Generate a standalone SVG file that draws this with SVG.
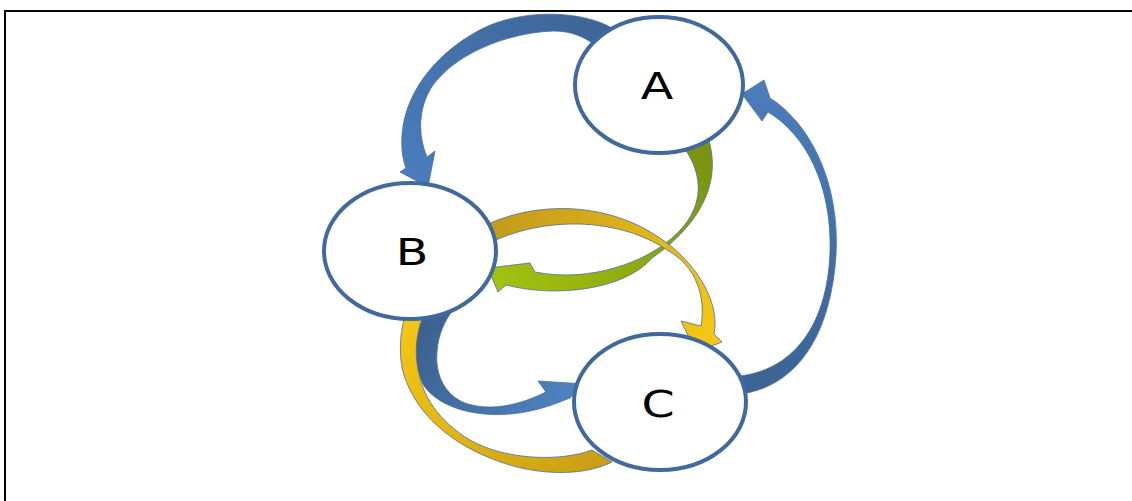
<svg xmlns="http://www.w3.org/2000/svg" width="1132" height="501" viewBox="0 0 1132 501">
<style>
.node{fill:#ffffff;stroke:#41699b;stroke-width:4}
.lbl{font-family:"DejaVu Sans",Verdana,sans-serif;font-size:38px;fill:#000;text-anchor:middle}
.arr{stroke:#4a6e9c;stroke-width:0.8;stroke-linejoin:round}
.frame{stroke:#000;stroke-width:2;fill:none}
</style>
<defs>
<linearGradient id="gBlueTop" gradientUnits="userSpaceOnUse" x1="600" y1="20" x2="420" y2="180">
<stop offset="0" stop-color="#3d6596"/><stop offset="1" stop-color="#4a7cba"/>
</linearGradient>
<linearGradient id="gBlueRight" gradientUnits="userSpaceOnUse" x1="760" y1="390" x2="760" y2="90">
<stop offset="0" stop-color="#3c6393"/><stop offset="1" stop-color="#4b7dba"/>
</linearGradient>
<linearGradient id="gGreen" gradientUnits="userSpaceOnUse" x1="700" y1="140" x2="500" y2="280">
<stop offset="0" stop-color="#7a9311"/><stop offset="1" stop-color="#a3c10f"/>
</linearGradient>
<linearGradient id="gGoldMid" gradientUnits="userSpaceOnUse" x1="480" y1="230" x2="710" y2="340">
<stop offset="0" stop-color="#c19a1c"/><stop offset="1" stop-color="#f6c616"/>
</linearGradient>
<linearGradient id="gBlueLow" gradientUnits="userSpaceOnUse" x1="430" y1="310" x2="580" y2="390">
<stop offset="0" stop-color="#3c6190"/><stop offset="1" stop-color="#4f83c2"/>
</linearGradient>
<linearGradient id="gGoldLow" gradientUnits="userSpaceOnUse" x1="600" y1="460" x2="410" y2="310">
<stop offset="0" stop-color="#c9a015"/><stop offset="1" stop-color="#f5c613"/>
</linearGradient>
</defs>
<rect width="1132" height="501" fill="#ffffff"/>
<g id="frame">
<path class="frame" d="M5,501 V11 H1132"/>
</g>
<g id="connectors">
<path id="c-to-b" class="arr" fill="url(#gGoldLow)" d="M592,450 C560,462 505,460 470,440 C440,422 420,395 418,365 C417,345 418,328 423,316 L428,313 L414,300 L401,314 L405,316 C399,335 399,360 404,375 C415,410 445,440 490,458 C530,475 580,478 612,462 Z"/>
<path id="b-to-c-low" class="arr" fill="url(#gBlueLow)" d="M433,303 L425,313 C414,335 413,365 424,386 C440,408 475,417 510,414 C535,412 555,404 570,398 L585,384 L538,381 L546,392 C520,405 490,412 465,403 C445,395 435,375 437,352 C438,335 445,320 453,310 Z"/>
<path id="a-to-b-mid" class="arr" fill="url(#gGreen)" d="M678,140 C702,168 710,205 672,238 C645,262 590,283 535,272 L530,263 L488,268 L498,292 L506,285 C555,298 625,290 652,258 C700,225 725,180 706,132 Z"/>
<path id="b-to-c-mid" class="arr" fill="url(#gGoldMid)" d="M478,229 C525,203 605,196 667,243 C700,268 720,305 714,334 L722,342 L696,352 L681,321 L701,326 C706,296 696,266 667,250 C630,224 560,212 496,240 Z"/>
<path id="a-to-b-top" class="arr" fill="url(#gBlueTop)" d="M612,28 C585,12 530,8 488,26 C440,48 405,90 402,135 C401,150 403,160 406,168 L400,172 L428,187 L435,151 L427,157 C418,135 418,110 431,88 C453,55 505,33 553,31 C570,31 583,36 595,45 Z"/>
<path id="c-to-a" class="arr" fill="url(#gBlueRight)" d="M740,394 C790,388 830,345 836,255 C840,185 812,125 770,98 L764,80 L742,94 L762,121 L768,112 C806,135 832,185 830,252 C827,330 790,370 740,376 Z"/>
</g>
<g id="node-a">
<ellipse class="node" cx="659" cy="85" rx="84" ry="68"/>
<text class="lbl" transform="translate(657,99) scale(1.25,1)">A</text>
</g>
<g id="node-b">
<ellipse class="node" cx="410" cy="251" rx="86" ry="68"/>
<text class="lbl" transform="translate(412,265) scale(1.25,1)">B</text>
</g>
<g id="node-c">
<ellipse class="node" cx="660" cy="402" rx="86" ry="68"/>
<text class="lbl" transform="translate(658,417) scale(1.25,1)">C</text>
</g>
</svg>
